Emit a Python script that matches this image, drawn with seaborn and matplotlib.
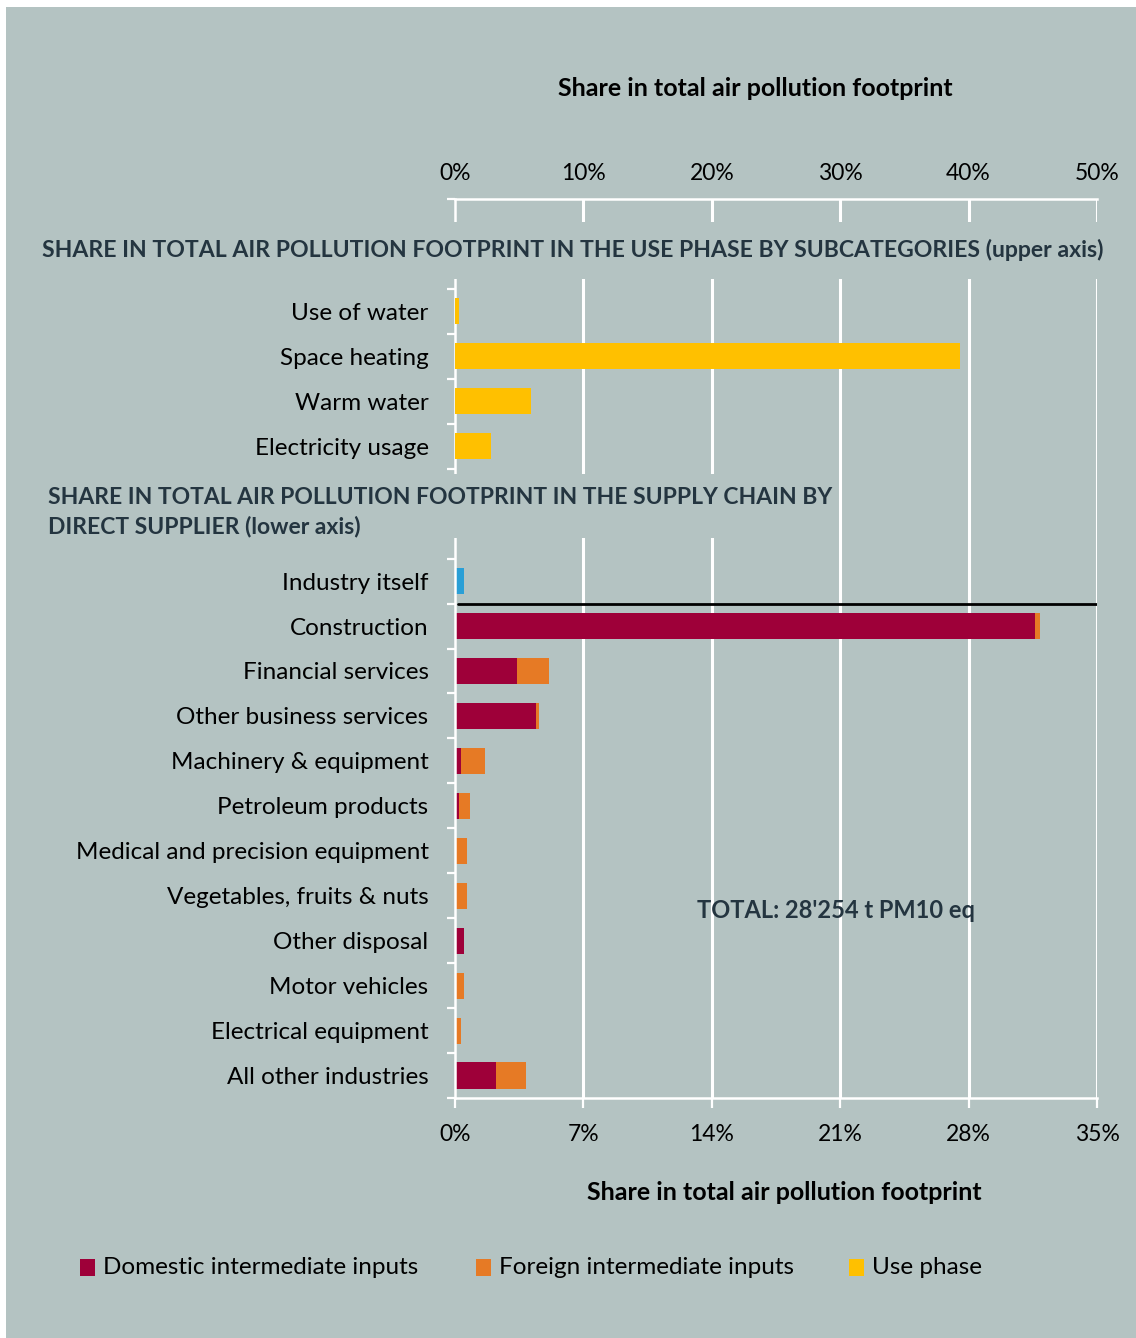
import matplotlib
matplotlib.use("Agg")
import matplotlib.pyplot as plt
from matplotlib.patches import Rectangle
import numpy as np
import pandas as pd
import seaborn as sns

# ---- data -------------------------------------------------------------
use_rows = ["Use of water", "Space heating", "Warm water", "Electricity usage"]
use_phase = [0.33, 39.3, 5.9, 2.8]          # % of total, upper axis (0-50 %)

supplier_rows = [
    "Industry itself", "Construction", "Financial services",
    "Other business services", "Machinery & equipment", "Petroleum products",
    "Medical and precision equipment", "Vegetables, fruits & nuts",
    "Other disposal", "Motor vehicles", "Electrical equipment",
    "All other industries",
]
domestic = [0.0, 31.6, 3.40, 4.42, 0.34, 0.22, 0.0, 0.0, 0.51, 0.0, 0.0, 2.24]
foreign = [0.0, 0.31, 1.74, 0.16, 1.31, 0.58, 0.65, 0.65, 0.0, 0.49, 0.34, 1.62]
own_industry = [0.49]                       # "Industry itself"

upper_ticks = [0, 10, 20, 30, 40, 50]
lower_ticks = [0, 7, 14, 21, 28, 35]

use_title = "SHARE IN TOTAL AIR POLLUTION FOOTPRINT IN THE USE PHASE BY SUBCATEGORIES (upper axis)"
supply_title = "SHARE IN TOTAL AIR POLLUTION FOOTPRINT IN THE SUPPLY CHAIN BY\nDIRECT SUPPLIER (lower axis)"
axis_title = "Share in total air pollution footprint"
total_text = "TOTAL: 28'254 t PM10 eq"
legend_labels = ["Domestic intermediate inputs", "Foreign intermediate inputs", "Use phase"]

# ---- style ------------------------------------------------------------
BG = "#b4c3c2"
CRIMSON = "#9e0039"
ORANGE = "#e67a25"
YELLOW = "#ffc000"
BLUE = "#2a9fd6"
DARK = "#243540"

sns.set_theme(style="white")
plt.rcParams["font.family"] = ["Lato", "DejaVu Sans"]

W, H = 1136, 1338
fig = plt.figure(figsize=(W / 100, H / 100), dpi=100, facecolor="white")


def fx(px):
    return px / W


def fy(py):
    return 1 - py / H


# panel background
fig.patches.append(Rectangle((fx(6), 0), 1 - fx(6), fy(7), transform=fig.transFigure,
                             facecolor=BG, edgecolor="none", zorder=-10))

# row order: two blank rows for each section heading
rows = [" ", "  "] + use_rows + ["   ", "    "] + supplier_rows
n = len(rows)

ax = fig.add_axes([fx(455), fy(1098), fx(1097) - fx(455), fy(199) - fy(1098)])
ax.set_facecolor("none")
ax_top = ax.twiny()
ax_top.set_facecolor("none")

sup = pd.DataFrame({"row": supplier_rows, "domestic": domestic, "foreign": foreign})
sup["total"] = sup["domestic"] + sup["foreign"]
own = pd.DataFrame({"row": ["Industry itself"], "value": own_industry})
use = pd.DataFrame({"row": use_rows, "value": use_phase})

bw = 0.58
common = dict(order=rows, orient="h", errorbar=None, saturation=1, width=bw, linewidth=0)
sns.barplot(data=sup, x="total", y="row", color=ORANGE, ax=ax, zorder=3, **common)
sns.barplot(data=sup, x="domestic", y="row", color=CRIMSON, ax=ax, zorder=4, **common)
sns.barplot(data=own, x="value", y="row", color=BLUE, ax=ax, zorder=4, **common)
sns.barplot(data=use, x="value", y="row", color=YELLOW, ax=ax_top, zorder=4, **common)

ax.set_xlim(0, 35)
ax_top.set_xlim(0, 50)
ax.set_ylim(n - 0.5, -0.5)

# gridlines
for v in lower_ticks[1:]:
    ax.axvline(v, color="white", lw=2.2, zorder=1)

# separator below "Industry itself"
sep = rows.index("Industry itself") + 0.5
ax.axhline(sep, xmin=0.005, xmax=1.0, color="black", lw=2.0, zorder=5)

# spines
for a in (ax, ax_top):
    for s in a.spines.values():
        s.set_visible(False)
ax.spines["left"].set_visible(True)
ax.spines["left"].set_color("white")
ax.spines["left"].set_linewidth(1.8)
ax.spines["left"].set_zorder(6)
ax.spines["bottom"].set_visible(True)
ax.spines["bottom"].set_color("white")
ax.spines["bottom"].set_linewidth(1.8)
ax_top.spines["top"].set_visible(True)
ax_top.spines["top"].set_color("white")
ax_top.spines["top"].set_linewidth(1.8)

# x axes
ax.set_xticks(lower_ticks)
ax.set_xticklabels([f"{v}%" for v in lower_ticks])
ax.tick_params(axis="x", bottom=True, direction="out", length=7.5, width=1.6,
               color="white", pad=11, labelsize=16.5, labelcolor="black")
ax.set_xlabel("")
ax_top.set_xticks(upper_ticks)
ax_top.set_xticklabels([f"{v}%" for v in upper_ticks])
ax_top.tick_params(axis="x", top=True, length=0, pad=11, labelsize=16.5, labelcolor="black")
ax_top.set_xlabel("")

# y axis: labels at row centres, small ticks at row boundaries
ax.set_yticks(range(n))
ax.set_yticklabels(rows)
ax.tick_params(axis="y", left=True, length=0, pad=19, labelsize=17.5, labelcolor="black")
ax.set_yticks(np.arange(-0.5, n, 1.0), minor=True)
ax.tick_params(axis="y", which="minor", left=True, direction="out", length=6,
               width=1.6, color="white")
ax.set_ylabel("")
ax_top.set_ylabel("")
ax_top.tick_params(axis="y", left=False, right=False, labelleft=False, labelright=False)

# section headings sit on background-coloured boxes over the grid
fig.patches.append(Rectangle((fx(30), fy(279)), fx(1115) - fx(30), fy(222) - fy(279),
                             transform=fig.transFigure, facecolor=BG, edgecolor="none", zorder=8))
fig.patches.append(Rectangle((fx(30), fy(538)), fx(834) - fx(30), fy(474) - fy(538),
                             transform=fig.transFigure, facecolor=BG, edgecolor="none", zorder=8))
fig.text(fx(42), fy(250), use_title, ha="left", va="center", fontsize=16.6,
         fontweight="bold", color=DARK, zorder=9)
fig.text(fx(48), fy(512), supply_title, ha="left", va="center", fontsize=16.5,
         fontweight="bold", color=DARK, linespacing=1.4, zorder=9)

fig.text(fx(755), fy(88), axis_title, ha="center", va="center", fontsize=18,
         fontweight="bold", color="black")
fig.text(fx(784), fy(1192), axis_title, ha="center", va="center", fontsize=18,
         fontweight="bold", color="black")
fig.text(fx(836), fy(910), total_text, ha="center", va="center", fontsize=17,
         fontweight="bold", color=DARK, zorder=9)

# legend
legend_x = [80, 476, 849]
for x0, lab, col in zip(legend_x, legend_labels, [CRIMSON, ORANGE, YELLOW]):
    fig.patches.append(Rectangle((fx(x0), fy(1276)), fx(15), 17 / H,
                                 transform=fig.transFigure, facecolor=col,
                                 edgecolor="none", zorder=9))
    fig.text(fx(x0 + 23), fy(1268), lab, ha="left", va="center", fontsize=17.5,
             color="black", zorder=9)

fig.savefig("out.png", dpi=100, facecolor=fig.get_facecolor())
